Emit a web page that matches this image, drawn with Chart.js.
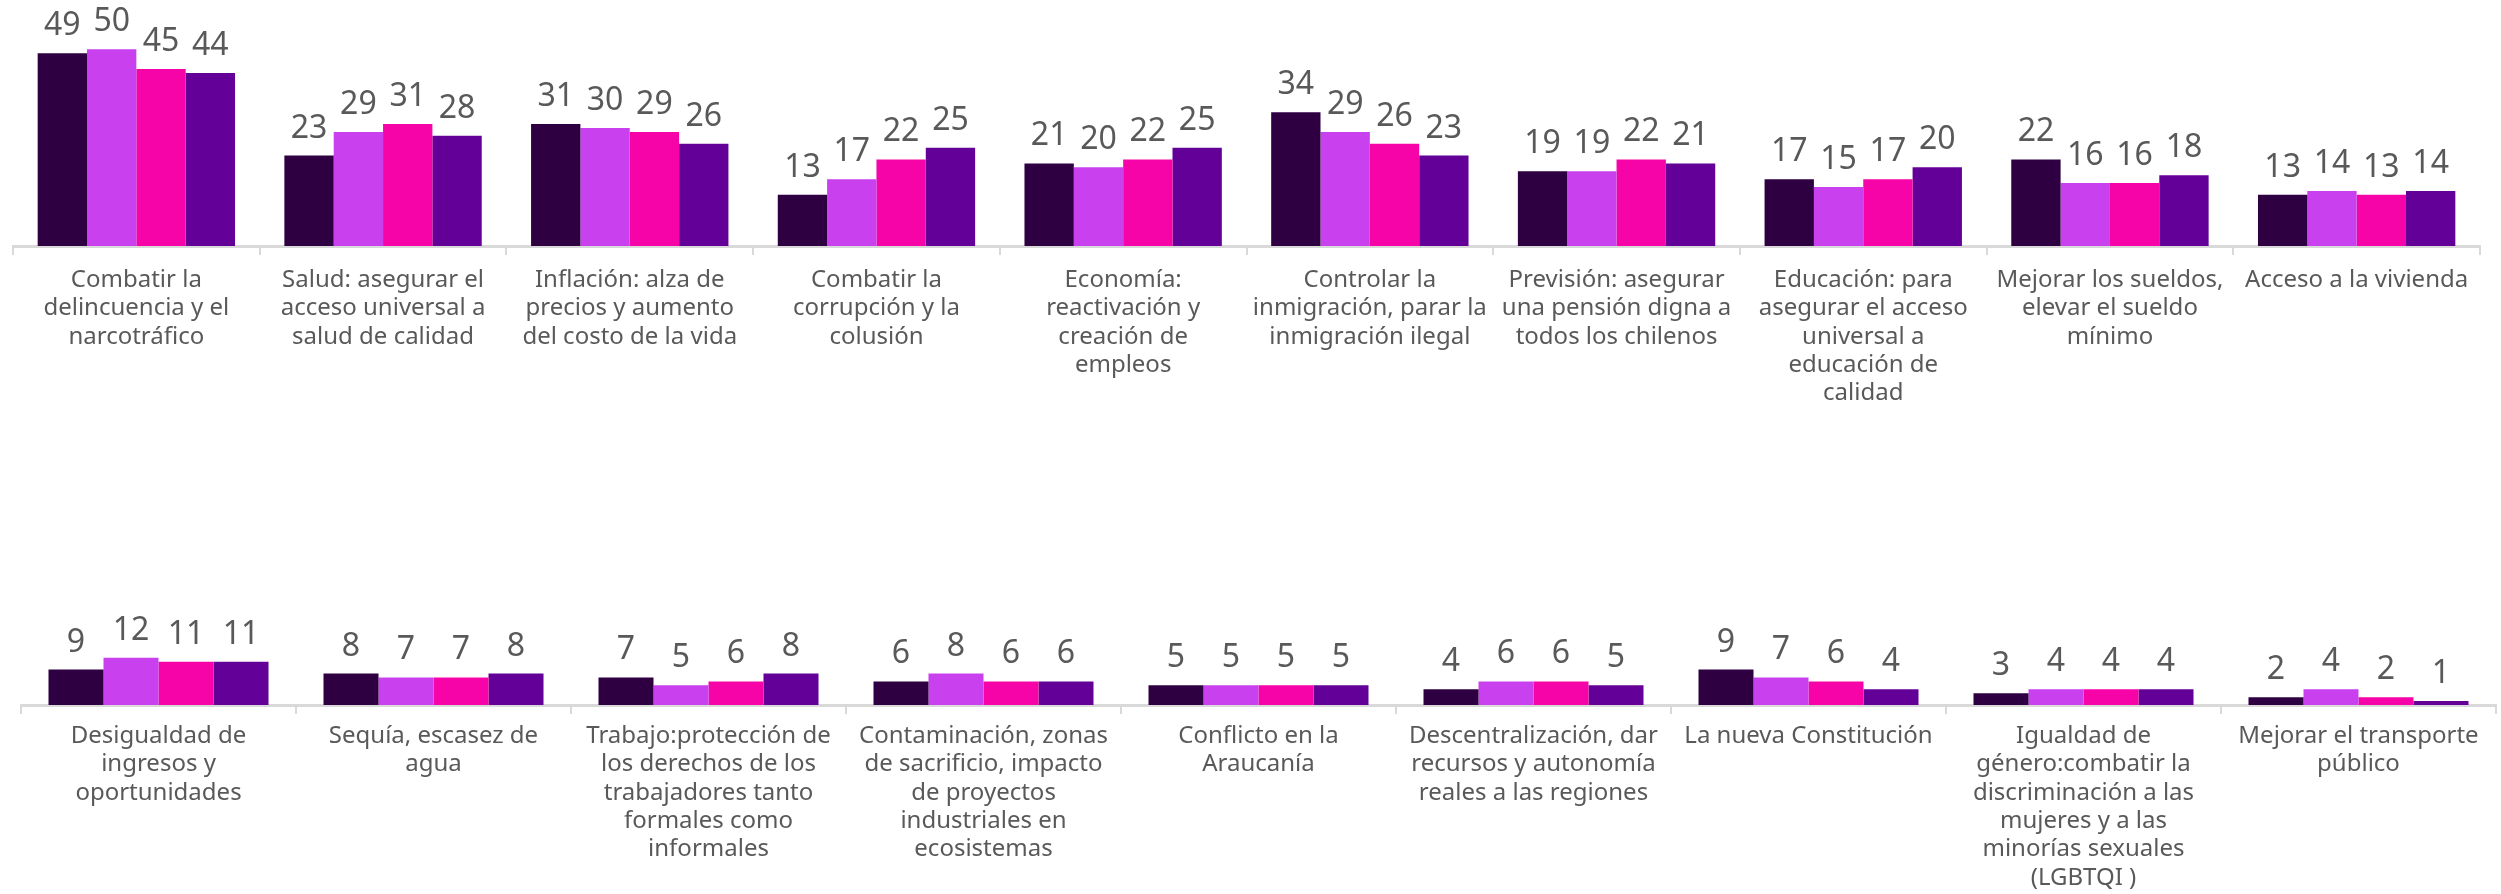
<!DOCTYPE html>
<html>
<head>
<meta charset="utf-8">
<script src="https://cdn.jsdelivr.net/npm/chart.js@4"></script>
<style>
  html, body { margin: 0; padding: 0; background: #ffffff; }
  .panel { position: absolute; left: 0; width: 2501px; height: 447px; }
  #top { top: 0; }
  #bottom { top: 447px; }
</style>
</head>
<body>
<div class="panel" id="top"><canvas id="chartTop" width="2501" height="447"></canvas></div>
<div class="panel" id="bottom"><canvas id="chartBottom" width="2501" height="447"></canvas></div>
<script>
// categories, top row
const topCategories = [
  ['Combatir la', 'delincuencia y el', 'narcotráfico'],
  ['Salud: asegurar el', 'acceso universal a', 'salud de calidad'],
  ['Inflación: alza de', 'precios y aumento', 'del costo de la vida'],
  ['Combatir la', 'corrupción y la', 'colusión'],
  ['Economía:', 'reactivación y', 'creación de', 'empleos'],
  ['Controlar la', 'inmigración, parar la', 'inmigración ilegal'],
  ['Previsión: asegurar', 'una pensión digna a', 'todos los chilenos'],
  ['Educación: para', 'asegurar el acceso', 'universal a', 'educación de', 'calidad'],
  ['Mejorar los sueldos,', 'elevar el sueldo', 'mínimo'],
  ['Acceso a la vivienda']
];
const topSerie1 = [49, 23, 31, 13, 21, 34, 19, 17, 22, 13];
const topSerie2 = [50, 29, 30, 17, 20, 29, 19, 15, 16, 14];
const topSerie3 = [45, 31, 29, 22, 22, 26, 22, 17, 16, 13];
const topSerie4 = [44, 28, 26, 25, 25, 23, 21, 20, 18, 14];

// categories, bottom row
const bottomCategories = [
  ['Desigualdad de', 'ingresos y', 'oportunidades'],
  ['Sequía, escasez de', 'agua'],
  ['Trabajo:protección de', 'los derechos de los', 'trabajadores tanto', 'formales como', 'informales'],
  ['Contaminación, zonas', 'de sacrificio, impacto', 'de proyectos', 'industriales en', 'ecosistemas'],
  ['Conflicto en la', 'Araucanía'],
  ['Descentralización, dar', 'recursos y autonomía', 'reales a las regiones'],
  ['La nueva Constitución'],
  ['Igualdad de', 'género:combatir la', 'discriminación a las', 'mujeres y a las', 'minorías sexuales', '(LGBTQI )'],
  ['Mejorar el transporte', 'público']
];
const bottomSerie1 = [9, 8, 7, 6, 5, 4, 9, 3, 2];
const bottomSerie2 = [12, 7, 5, 8, 5, 6, 7, 4, 4];
const bottomSerie3 = [11, 7, 6, 6, 5, 6, 6, 4, 2];
const bottomSerie4 = [11, 8, 8, 6, 5, 5, 4, 4, 1];

const serieNames = ['Medición 1', 'Medición 2', 'Medición 3', 'Medición 4'];
const COLORS = ['#2e0042', '#c941ee', '#f704a8', '#630098'];
const TEXT = '#595959';
const AXIS = '#d9d9d9';
const FONT = '"Noto Sans", sans-serif';

// draws the number above each bar
const valueLabels = {
  id: 'valueLabels',
  afterDatasetsDraw(chart) {
    const ctx = chart.ctx;
    ctx.save();
    ctx.font = '32px ' + FONT;
    ctx.fillStyle = TEXT;
    ctx.textAlign = 'center';
    ctx.textBaseline = 'alphabetic';
    chart.data.datasets.forEach((ds, i) => {
      chart.getDatasetMeta(i).data.forEach((bar, j) => {
        ctx.fillText(ds.data[j], bar.x, bar.y - 18);
      });
    });
    ctx.restore();
  }
};

function makeChart(id, labels, series, pad, axisHeight, labelPad) {
  return new Chart(document.getElementById(id), {
    type: 'bar',
    data: {
      labels: labels,
      datasets: series.map((s, i) => ({
        label: serieNames[i],
        data: s,
        backgroundColor: COLORS[i],
        borderWidth: 0,
        categoryPercentage: 0.8,
        barPercentage: 1.0
      }))
    },
    options: {
      responsive: false,
      animation: false,
      layout: { padding: pad },
      plugins: {
        legend: { display: false },
        tooltip: { enabled: false }
      },
      scales: {
        x: {
          grid: {
            display: true,
            offset: true,
            drawOnChartArea: false,
            drawTicks: true,
            tickLength: 9,
            color: AXIS,
            lineWidth: 2
          },
          border: { display: true, color: AXIS, width: 3 },
          ticks: {
            color: TEXT,
            font: { family: FONT, size: 24, lineHeight: 1.18 },
            maxRotation: 0,
            minRotation: 0,
            autoSkip: false,
            padding: labelPad
          },
          afterFit: (scale) => { scale.height = axisHeight; }
        },
        y: {
          display: false,
          beginAtZero: true,
          min: 0,
          max: 60
        }
      }
    },
    plugins: [valueLabels]
  });
}

makeChart('chartTop', topCategories,
  [topSerie1, topSerie2, topSerie3, topSerie4],
  { top: 10, left: 13, right: 21, bottom: 0 }, 201, 11);

makeChart('chartBottom', bottomCategories,
  [bottomSerie1, bottomSerie2, bottomSerie3, bottomSerie4],
  { top: 22, left: 21, right: 5, bottom: 0 }, 189, 8);
</script>
</body>
</html>
